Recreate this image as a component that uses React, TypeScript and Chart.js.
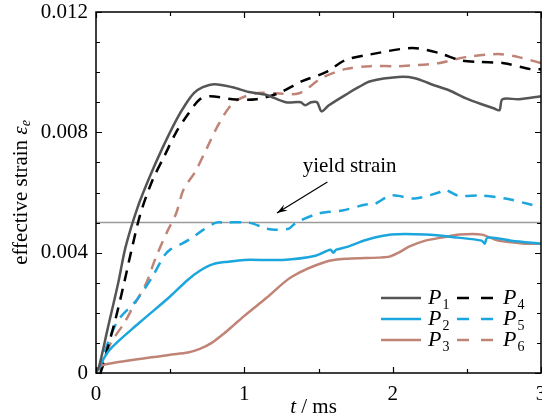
import { useEffect, useRef } from "react";
import { Chart, registerables } from "chart.js";

Chart.register(...registerables);

// ---- data (t in ms, effective strain) ----
const SERIES_NAMES = ["1", "2", "3", "4", "5", "6"];

const p1T = [0, 0.02, 0.08, 0.15, 0.2, 0.28, 0.36, 0.45, 0.54, 0.6, 0.66, 0.72, 0.8, 0.92, 1.03, 1.15, 1.28, 1.38, 1.41, 1.45, 1.49, 1.52, 1.57, 1.7, 1.77, 1.85, 2.04, 2.15, 2.26, 2.38, 2.49, 2.62, 2.68, 2.72, 2.74, 2.85, 3.0];
const p1V = [0, 0.0002, 0.0015, 0.003, 0.0042, 0.0055, 0.0065, 0.0075, 0.0084, 0.0089, 0.0093, 0.0095, 0.0096, 0.0095, 0.00934, 0.00924, 0.009, 0.009, 0.0089, 0.009, 0.009, 0.0087, 0.0089, 0.0093, 0.0095, 0.0097, 0.00984, 0.0098, 0.0096, 0.0094, 0.00914, 0.0089, 0.0088, 0.00874, 0.0091, 0.0091, 0.0092];

const p2T = [0.01, 0.09, 0.29, 0.49, 0.62, 0.7, 0.79, 0.89, 1.0, 1.26, 1.48, 1.58, 1.6, 1.62, 1.7, 1.82, 1.99, 2.22, 2.44, 2.6, 2.62, 2.64, 2.8, 3.0];
const p2V = [0.0001, 0.00076, 0.00166, 0.0025, 0.0031, 0.0034, 0.00362, 0.0037, 0.00376, 0.00376, 0.0039, 0.0041, 0.004, 0.0041, 0.0042, 0.00442, 0.0046, 0.0046, 0.0045, 0.0044, 0.0043, 0.0045, 0.0044, 0.0043];

const p3T = [0.0, 0.05, 0.49, 0.62, 0.7, 0.78, 0.86, 0.93, 1.0, 1.15, 1.32, 1.55, 1.7, 1.97, 2.04, 2.11, 2.22, 2.33, 2.45, 2.6, 2.71, 2.89, 3.0];
const p3V = [0.0001, 0.00027, 0.0006, 0.00068, 0.0008, 0.001, 0.0013, 0.0016, 0.0019, 0.0025, 0.0032, 0.0037, 0.0038, 0.00386, 0.004, 0.0042, 0.0044, 0.0045, 0.0046, 0.0046, 0.0044, 0.0043, 0.0043];

const p4T = [0.03, 0.05, 0.08, 0.13, 0.19, 0.24, 0.3, 0.38, 0.46, 0.54, 0.62, 0.7, 0.77, 0.92, 1.08, 1.23, 1.39, 1.55, 1.68, 1.86, 2.13, 2.31, 2.45, 2.58, 2.75, 2.93, 3.0];
const p4V = [0, 0.0003, 0.00086, 0.00176, 0.003, 0.0041, 0.0053, 0.0064, 0.0072, 0.008, 0.0086, 0.0091, 0.0092, 0.0091, 0.0091, 0.0093, 0.0097, 0.01, 0.0104, 0.0106, 0.0108, 0.01064, 0.0104, 0.01034, 0.0103, 0.0101, 0.0101];

const p5T = [0.02, 0.08, 0.15, 0.27, 0.38, 0.46, 0.5, 0.58, 0.65, 0.72, 0.81, 0.87, 1.03, 1.15, 1.21, 1.3, 1.35, 1.5, 1.66, 1.82, 1.87, 1.99, 2.15, 2.31, 2.35, 2.44, 2.6, 2.76, 2.93, 3.0];
const p5V = [0.0001, 0.001, 0.00176, 0.0024, 0.0032, 0.0039, 0.0041, 0.0043, 0.0045, 0.00475, 0.005, 0.005, 0.005, 0.0048, 0.00476, 0.0048, 0.005, 0.0053, 0.0054, 0.0056, 0.0056, 0.0059, 0.0058, 0.006, 0.0061, 0.0059, 0.0059, 0.0058, 0.0056, 0.0055];

const p6T = [0.02, 0.1, 0.19, 0.25, 0.34, 0.4, 0.48, 0.54, 0.59, 0.67, 0.75, 0.83, 0.93, 1.08, 1.21, 1.37, 1.52, 1.68, 1.85, 2.04, 2.31, 2.49, 2.71, 2.85, 3.0];
const p6V = [0.0001, 0.001, 0.00166, 0.0022, 0.003, 0.0038, 0.0047, 0.0053, 0.0061, 0.0067, 0.0075, 0.0083, 0.009, 0.0093, 0.0093, 0.0093, 0.0098, 0.0101, 0.0102, 0.0102, 0.0103, 0.0105, 0.0106, 0.0105, 0.0103];

const X_TICKS = [0, 1, 2, 3];
const X_MINOR = [0.5, 1.5, 2.5];
const Y_TICKS = [0, 0.004, 0.008, 0.012];
const Y_MINOR = [0.001, 0.002, 0.003, 0.005, 0.006, 0.007, 0.009, 0.01, 0.011];
const YIELD_STRAIN = 0.005;
const YIELD_LABEL = "yield strain";
const YIELD_LABEL_POS = { x: 1.71, y: 0.00688 };
const ARROW_FROM = { x: 1.56, y: 0.00635 };
const ARROW_TO = { x: 1.22, y: 0.00532 };

const X_TITLE_ITALIC = "t";
const X_TITLE_REST = " / ms";
const Y_TITLE = "effective strain ";
const Y_TITLE_SYM = "ε";
const Y_TITLE_SUB = "e";

const C_GRAY = "#555555";
const C_BLUE = "#1ba6dd";
const C_BROWN = "#c08476";
const C_BLACK = "#000000";

const FONT = "Liberation Serif";

const pts = (t: number[], v: number[]) => t.map((x, i) => ({ x, y: v[i] }));

export default function App() {
  const ref = useRef<HTMLCanvasElement | null>(null);

  useEffect(() => {
    if (!ref.current) return;
    const DASH = [11, 8];
    const mk = (name: string, t: number[], v: number[], color: string, dash: number[]) => ({
      label: name,
      data: pts(t, v),
      borderColor: color,
      backgroundColor: color,
      borderDash: dash,
      borderWidth: 2.5,
      pointRadius: 0,
      fill: false,
      tension: 0.3,
    });

    const decor = {
      id: "decor",
      beforeDatasetsDraw(chart: any) {
        const { ctx, chartArea } = chart;
        const y = chart.scales.y.getPixelForValue(YIELD_STRAIN);
        ctx.save();
        ctx.strokeStyle = "#9a9a9a";
        ctx.lineWidth = 1.5;
        ctx.beginPath();
        ctx.moveTo(chartArea.left, y);
        ctx.lineTo(chartArea.right, y);
        ctx.stroke();
        ctx.restore();
      },
      afterDraw(chart: any) {
        const { ctx, chartArea } = chart;
        const { left, right, top, bottom } = chartArea;
        const xs = chart.scales.x;
        const ys = chart.scales.y;
        ctx.save();
        // frame
        ctx.strokeStyle = "#000";
        ctx.lineWidth = 1.5;
        ctx.strokeRect(left, top, right - left, bottom - top);
        // ticks
        ctx.lineWidth = 1.2;
        const tickX = (v: number, len: number) => {
          const p = Math.round(xs.getPixelForValue(v)) + 0.5;
          ctx.beginPath();
          ctx.moveTo(p, bottom);
          ctx.lineTo(p, bottom - len);
          ctx.moveTo(p, top);
          ctx.lineTo(p, top + len);
          ctx.stroke();
        };
        const tickY = (v: number, len: number) => {
          const p = Math.round(ys.getPixelForValue(v)) + 0.5;
          ctx.beginPath();
          ctx.moveTo(left, p);
          ctx.lineTo(left + len, p);
          ctx.moveTo(right, p);
          ctx.lineTo(right - len, p);
          ctx.stroke();
        };
        X_TICKS.forEach((v) => tickX(v, 6));
        X_MINOR.forEach((v) => tickX(v, 4));
        Y_TICKS.forEach((v) => tickY(v, 6));
        Y_MINOR.forEach((v) => tickY(v, 4));

        ctx.fillStyle = "#000";
        ctx.textBaseline = "middle";
        // x title
        ctx.font = `italic 21px ${FONT}`;
        const wT = ctx.measureText(X_TITLE_ITALIC).width;
        ctx.font = `21px ${FONT}`;
        const wR = ctx.measureText(X_TITLE_REST).width;
        const cx = (left + right) / 2 - 5;
        const x0 = cx - (wT + wR) / 2;
        ctx.font = `italic 21px ${FONT}`;
        ctx.textAlign = "left";
        ctx.fillText(X_TITLE_ITALIC, x0, 407);
        ctx.font = `21px ${FONT}`;
        ctx.fillText(X_TITLE_REST, x0 + wT, 407);

        // y title (rotated)
        ctx.save();
        ctx.translate(21, (top + bottom) / 2);
        ctx.rotate(-Math.PI / 2);
        ctx.font = `21px ${FONT}`;
        const w1 = ctx.measureText(Y_TITLE).width;
        ctx.font = `italic 21px ${FONT}`;
        const w2 = ctx.measureText(Y_TITLE_SYM).width;
        ctx.font = `italic 14px ${FONT}`;
        const w3 = ctx.measureText(Y_TITLE_SUB).width;
        let sx = -(w1 + w2 + w3) / 2;
        ctx.font = `21px ${FONT}`;
        ctx.fillText(Y_TITLE, sx, 0);
        sx += w1;
        ctx.font = `italic 21px ${FONT}`;
        ctx.fillText(Y_TITLE_SYM, sx, 0);
        sx += w2;
        ctx.font = `italic 14px ${FONT}`;
        ctx.fillText(Y_TITLE_SUB, sx, 5);
        ctx.restore();

        // yield strain annotation
        ctx.font = `21px ${FONT}`;
        ctx.textAlign = "center";
        ctx.fillText(YIELD_LABEL, xs.getPixelForValue(YIELD_LABEL_POS.x), ys.getPixelForValue(YIELD_LABEL_POS.y));
        const ax0 = xs.getPixelForValue(ARROW_FROM.x);
        const ay0 = ys.getPixelForValue(ARROW_FROM.y);
        const ax1 = xs.getPixelForValue(ARROW_TO.x);
        const ay1 = ys.getPixelForValue(ARROW_TO.y);
        ctx.strokeStyle = "#000";
        ctx.lineWidth = 1.2;
        ctx.beginPath();
        ctx.moveTo(ax0, ay0);
        ctx.lineTo(ax1, ay1);
        ctx.stroke();
        const ang = Math.atan2(ay1 - ay0, ax1 - ax0);
        const hl = 11;
        const hw = 0.32;
        ctx.beginPath();
        ctx.moveTo(ax1, ay1);
        ctx.lineTo(ax1 - hl * Math.cos(ang - hw), ay1 - hl * Math.sin(ang - hw));
        ctx.lineTo(ax1 - hl * 0.6 * Math.cos(ang), ay1 - hl * 0.6 * Math.sin(ang));
        ctx.lineTo(ax1 - hl * Math.cos(ang + hw), ay1 - hl * Math.sin(ang + hw));
        ctx.closePath();
        ctx.fill();

        // legend (2 columns x 3 rows)
        const ds = chart.data.datasets;
        const rowY = [298, 319, 340];
        const cols = [
          { lx0: right - 160, lx1: right - 120, tx: right - 113 },
          { lx0: right - 84, lx1: right - 47, tx: right - 38 },
        ];
        ds.forEach((d: any, i: number) => {
          const col = cols[Math.floor(i / 3)];
          const y = rowY[i % 3];
          ctx.save();
          ctx.strokeStyle = d.borderColor;
          ctx.lineWidth = 2.5;
          ctx.setLineDash(d.borderDash && d.borderDash.length ? [12, 12] : []);
          ctx.beginPath();
          ctx.moveTo(col.lx0, y);
          ctx.lineTo(col.lx1, y);
          ctx.stroke();
          ctx.restore();
          ctx.textAlign = "left";
          ctx.font = `italic 22px ${FONT}`;
          ctx.fillText("P", col.tx, y);
          const pw = ctx.measureText("P").width;
          ctx.font = `14px ${FONT}`;
          ctx.fillText(d.label, col.tx + pw + 1, y + 7);
        });
        ctx.restore();
      },
    };

    const font = { family: FONT, size: 21 };
    const chart = new Chart(ref.current, {
      type: "line",
      data: {
        datasets: [
          mk(SERIES_NAMES[0], p1T, p1V, C_GRAY, []),
          mk(SERIES_NAMES[1], p2T, p2V, C_BLUE, []),
          mk(SERIES_NAMES[2], p3T, p3V, C_BROWN, []),
          mk(SERIES_NAMES[3], p4T, p4V, C_BLACK, DASH),
          mk(SERIES_NAMES[4], p5T, p5V, C_BLUE, DASH),
          mk(SERIES_NAMES[5], p6T, p6V, C_BROWN, DASH),
        ],
      },
      options: {
        animation: false,
        responsive: false,
        maintainAspectRatio: false,
        layout: { padding: { top: 12, right: 1, left: 0, bottom: 0 } },
        plugins: { legend: { display: false }, tooltip: { enabled: false } },
        scales: {
          x: {
            type: "linear",
            min: 0,
            max: 3,
            grid: { display: false, drawTicks: false },
            border: { display: false },
            ticks: { font, color: "#000", padding: 9, maxRotation: 0, autoSkip: false, callback: (v: any) => String(v) },
            afterBuildTicks: (s: any) => {
              s.ticks = X_TICKS.map((v) => ({ value: v }));
            },
            afterFit: (s: any) => {
              s.height = 47;
              s.paddingLeft = 0;
              s.paddingRight = 0;
            },
          },
          y: {
            type: "linear",
            min: 0,
            max: 0.012,
            grid: { display: false, drawTicks: false },
            border: { display: false },
            ticks: { font, color: "#000", padding: 8, autoSkip: false, callback: (v: any) => (v === 0 ? "0" : Number(v).toFixed(3)) },
            afterBuildTicks: (s: any) => {
              s.ticks = Y_TICKS.map((v) => ({ value: v }));
            },
            afterFit: (s: any) => {
              s.width = 96;
              s.paddingTop = 0;
              s.paddingBottom = 0;
            },
          },
        },
      } as any,
      plugins: [decor],
    });
    return () => chart.destroy();
  }, []);

  return (
    <div style={{ position: "absolute", left: 0, top: 0, width: 542, height: 420, background: "#fff" }}>
      <canvas ref={ref} width={542} height={420} style={{ width: 542, height: 420, display: "block" }} />
    </div>
  );
}
